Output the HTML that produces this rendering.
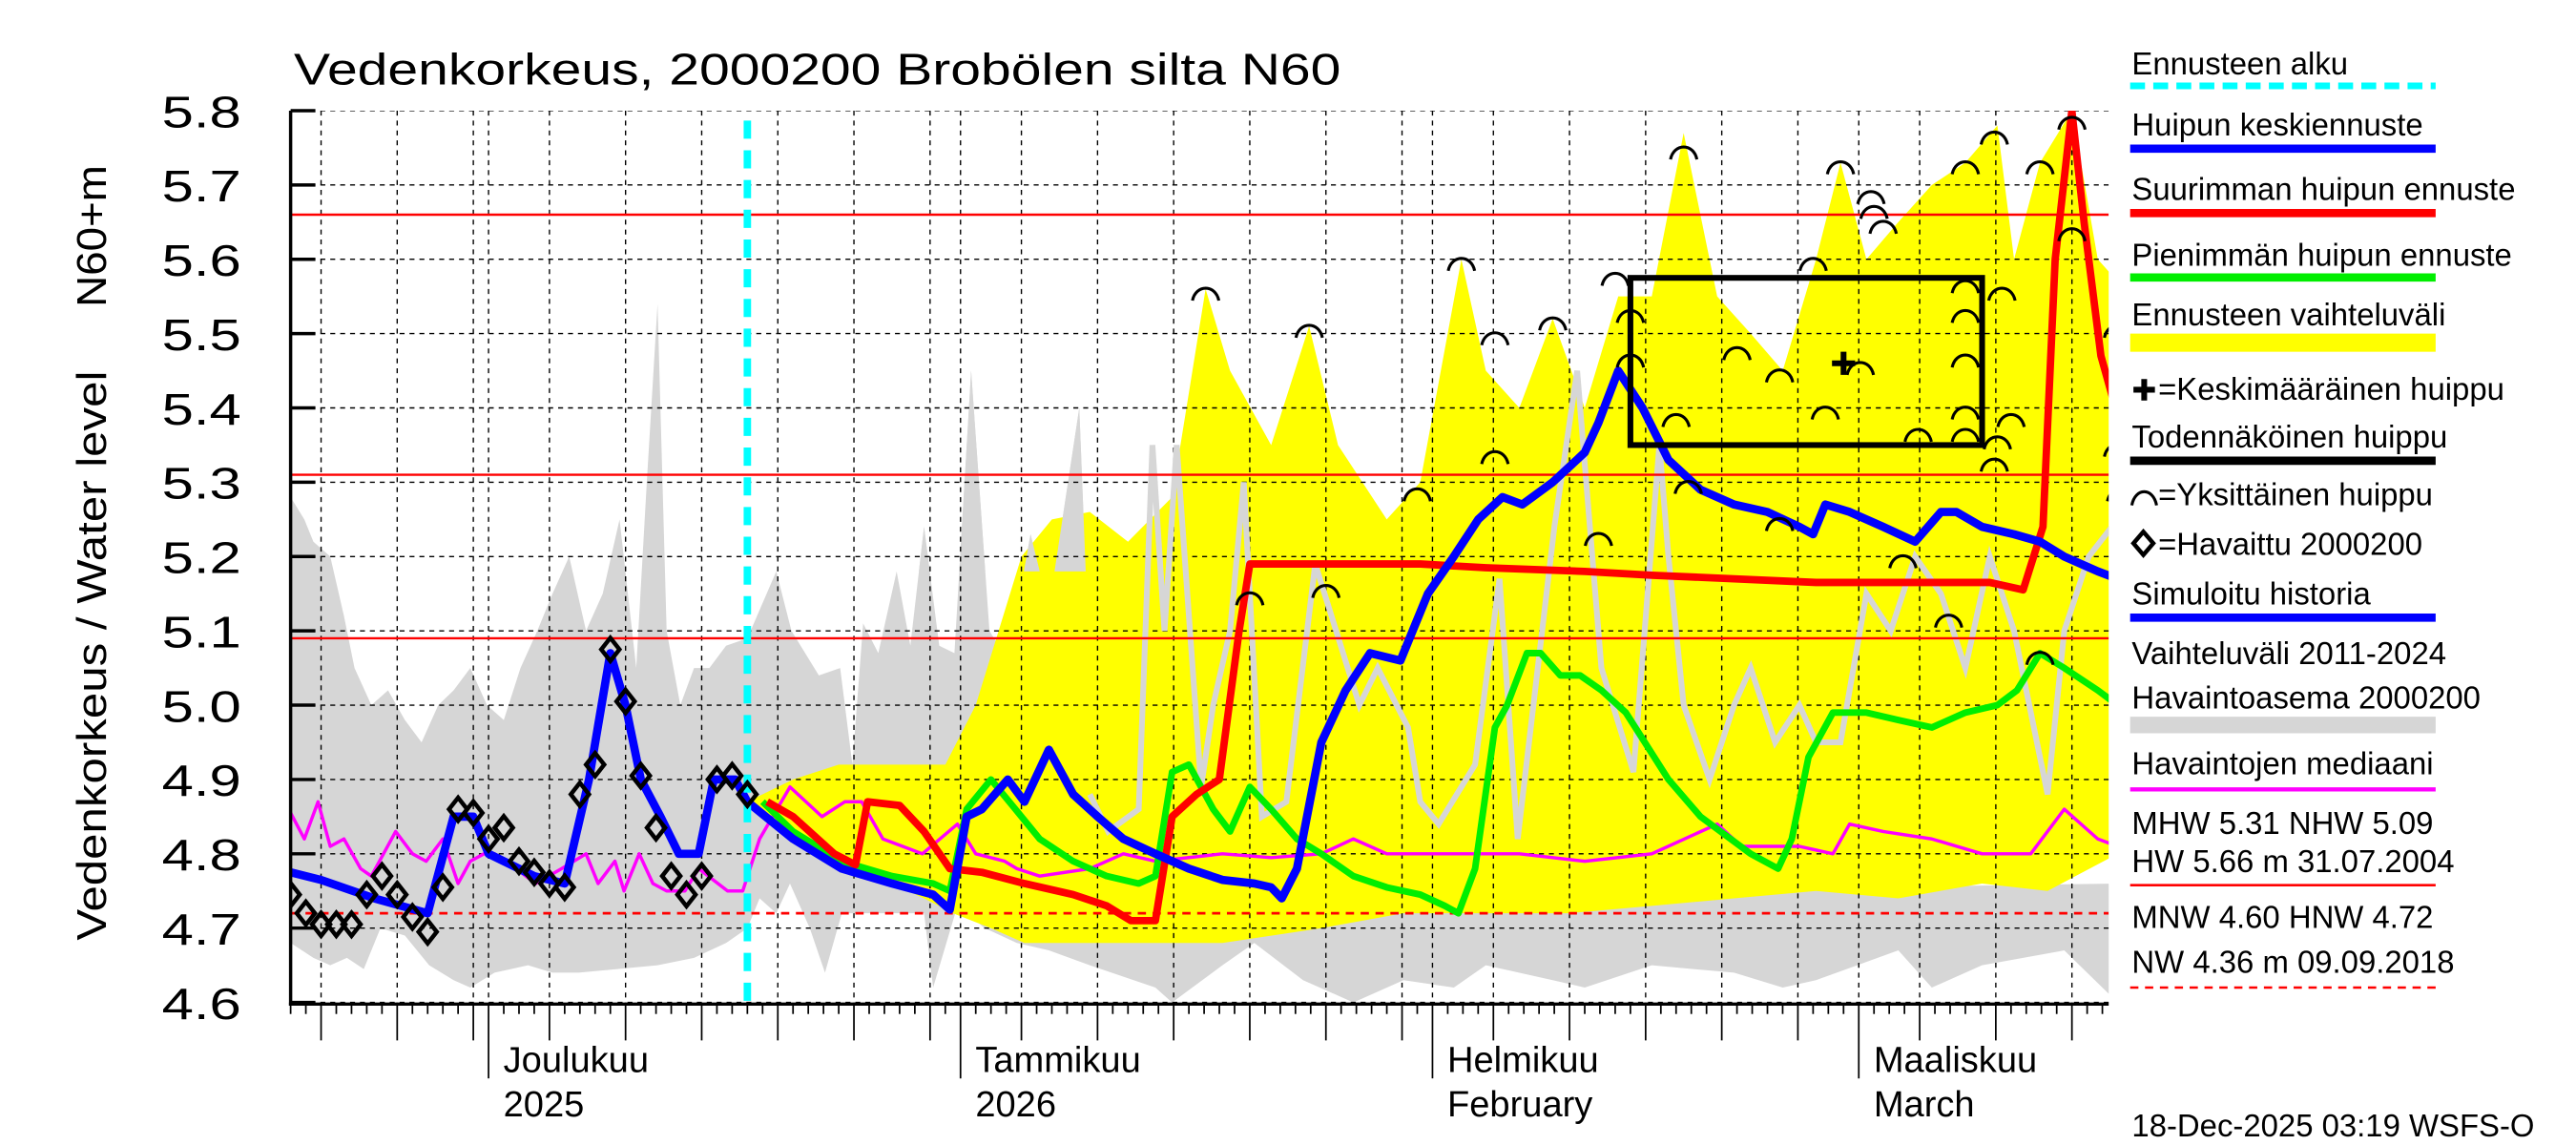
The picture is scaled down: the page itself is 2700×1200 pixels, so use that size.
<!DOCTYPE html>
<html><head><meta charset="utf-8"><style>
html,body{margin:0;padding:0;background:#fff}
svg{display:block}
text{font-family:"Liberation Sans",sans-serif}
</style></head><body>
<svg id="chart" width="2700" height="1200" viewBox="0 0 1560 693.33" preserveAspectRatio="none" xmlns="http://www.w3.org/2000/svg">
<defs><clipPath id="pc"><rect x="176" y="67" width="1101" height="541"/></clipPath>
<clipPath id="spk"><rect x="507" y="67" width="166" height="279"/></clipPath></defs>
<g id="plot" clip-path="url(#pc)"></g>
<g id="axes"></g>
<text x="178" y="51" font-size="27" textLength="634" lengthAdjust="spacingAndGlyphs">Vedenkorkeus, 2000200 Brobölen silta N60</text>
<text transform="translate(64,397) rotate(-90)" text-anchor="middle" font-size="25" textLength="345" lengthAdjust="spacingAndGlyphs">Vedenkorkeus / Water level</text>
<text transform="translate(64,143) rotate(-90)" text-anchor="middle" font-size="25" textLength="86" lengthAdjust="spacingAndGlyphs">N60+m</text>
<g id="legend" font-size="19"></g>
</svg>
<script>
const obsDays=[0,1,2,3,4,5,6,7,8,9,10,11,12,13,14,15,16,17,18,19,20,21,22,23,24,25,26,27,28,29,30];
const obsVals=[4.745,4.72,4.705,4.705,4.705,4.745,4.77,4.745,4.715,4.695,4.755,4.86,4.855,4.82,4.835,4.79,4.775,4.76,4.755,4.88,4.92,5.075,5.005,4.905,4.835,4.77,4.745,4.77,4.9,4.905,4.88];
const blueDays=[0,2,5.5,9,10.7,12,13,16,18,19.6,21,22,23,24.3,25.5,26.8,27.8,29.2,30,33.0,36.2,39.5,42.2,43.3,44.4,45.4,47.1,48.2,49.8,51.4,53.0,54.7,56.8,59.0,61.2,63.3,64.4,65.1,66.1,67.7,69.3,70.9,72.9,74.7,76.4,78.0,79.6,80.9,82.9,85.0,85.9,87.2,88.8,90.5,92.6,94.8,97.0,99.1,100.0,100.8,102.4,104.6,106.7,108.4,109.4,111.1,113.2,114.9,116.5,118.7,120];
const blueVals=[4.775,4.765,4.74,4.72,4.85,4.85,4.8,4.77,4.76,4.9,5.07,5.0,4.9,4.85,4.8,4.8,4.9,4.9,4.87,4.82,4.78,4.76,4.745,4.725,4.85,4.86,4.9,4.87,4.94,4.88,4.85,4.82,4.8,4.78,4.765,4.76,4.755,4.74,4.78,4.95,5.02,5.07,5.06,5.15,5.2,5.25,5.28,5.27,5.3,5.34,5.38,5.45,5.4,5.33,5.29,5.27,5.26,5.24,5.23,5.27,5.26,5.24,5.22,5.26,5.26,5.24,5.23,5.22,5.2,5.18,5.17];
const redDays=[31.3,33.0,35.7,37.1,37.9,40.0,41.6,43.3,45.4,48.2,51.4,53.6,55.2,56.8,57.9,59.5,61.0,62.3,63.0,67.7,74.2,78.5,85.0,89.4,94.8,100.2,105.6,111.6,113.8,115.1,115.9,117.0,117.8,118.9,120];
const redVals=[4.87,4.85,4.8,4.785,4.87,4.865,4.83,4.78,4.775,4.76,4.745,4.73,4.71,4.71,4.85,4.88,4.9,5.1,5.19,5.19,5.19,5.185,5.18,5.175,5.17,5.165,5.165,5.165,5.155,5.24,5.6,5.8,5.65,5.47,5.39];
const greenDays=[31,33,36.2,39.5,42.2,43.3,44.4,46,47.6,49.2,51.4,53.6,55.7,56.8,57.9,59,60.6,61.7,63,64.4,66.1,67.7,69.8,72,74.2,75.8,76.7,77.8,79.1,79.9,81.2,82.1,83.4,84.7,86.1,87.7,90.5,92.6,95.9,97.7,98.6,99.7,101.3,103.5,105.6,107.8,110,112.1,113.4,114.9,116.5,118.7,120];
const greenVals=[4.87,4.83,4.79,4.77,4.76,4.75,4.86,4.9,4.86,4.82,4.79,4.77,4.76,4.77,4.91,4.92,4.86,4.83,4.89,4.86,4.82,4.8,4.77,4.755,4.745,4.73,4.72,4.78,4.97,5.0,5.07,5.07,5.04,5.04,5.02,4.99,4.9,4.85,4.8,4.78,4.82,4.93,4.99,4.99,4.98,4.97,4.99,5.0,5.02,5.07,5.05,5.02,5.0];
const medDays=[0,0.9,1.8,2.6,3.5,4.6,5.3,6.9,8.0,8.9,10.0,11.0,11.8,12.7,13.4,14.8,16.1,17.8,19.4,20.2,21.3,21.9,22.9,23.8,24.7,25.9,26.8,28.7,29.7,30.8,32.8,34.9,36.4,37.5,38.9,41.5,43.8,45.0,46.9,47.7,49.2,52.5,54.7,56.8,61.2,64.4,67.7,69.8,72.0,76.4,80.7,85.0,89.4,93.7,95.3,99.1,101.3,102.4,104.6,107.8,111.1,114.3,116.5,118.7,120];
const medVals=[4.855,4.82,4.87,4.81,4.82,4.78,4.77,4.83,4.8,4.79,4.82,4.76,4.79,4.8,4.8,4.78,4.76,4.78,4.8,4.76,4.79,4.75,4.8,4.76,4.75,4.75,4.78,4.75,4.75,4.82,4.89,4.85,4.87,4.87,4.82,4.8,4.84,4.8,4.79,4.78,4.77,4.78,4.8,4.79,4.8,4.795,4.8,4.82,4.8,4.8,4.8,4.79,4.8,4.84,4.81,4.81,4.8,4.84,4.83,4.82,4.8,4.8,4.86,4.82,4.81];
const yelHiDays=[30,33,36,40,43,45,48,50,52.5,55,57.9,60.1,61.7,64.4,66.9,68.8,72.0,74.2,76.9,78.5,80.7,82.9,85.0,87.2,89.4,91.5,93.7,95.9,98.0,100.2,101.8,103.5,105.6,107.8,110.0,112.1,113.2,114.9,117.0,118.7,120];
const yelHiVals=[4.87,4.9,4.92,4.92,4.92,5.0,5.2,5.25,5.26,5.22,5.28,5.56,5.45,5.35,5.51,5.35,5.25,5.3,5.6,5.45,5.4,5.52,5.4,5.55,5.55,5.77,5.55,5.5,5.45,5.6,5.73,5.6,5.65,5.7,5.73,5.78,5.6,5.73,5.8,5.6,5.57];
const yelLoDays=[30,33,37.3,41.6,43.5,46.0,48.2,52.5,56.8,61.2,67.7,73.1,78.5,83.9,89.4,94.8,100.2,105.6,111.1,115.4,120];
const yelLoVals=[4.87,4.82,4.78,4.74,4.72,4.7,4.68,4.68,4.68,4.68,4.7,4.72,4.72,4.72,4.73,4.74,4.75,4.74,4.76,4.75,4.8];
const grayHiDays=[0,0.9,1.5,2.6,3.5,4.2,5.3,6.4,7.5,8.6,9.7,10.7,11.8,12.9,14.0,15.1,16.2,17.2,18.3,19.4,20.5,21.6,22.7,23.4,24.1,24.7,25.6,26.5,27.5,28.6,30,31.9,32.9,34.7,36.1,36.9,37.6,38.6,39.8,40.7,41.6,42.6,43.6,44.7,45.9,47.1,48.6,49.8,51.8,52.8,54,120];
const grayHiVals=[5.28,5.25,5.22,5.2,5.12,5.05,5.0,5.02,4.98,4.95,5.0,5.02,5.05,5.0,4.98,5.05,5.1,5.15,5.2,5.1,5.15,5.25,5.05,5.3,5.54,5.1,5.0,5.05,5.05,5.08,5.09,5.18,5.1,5.04,5.05,4.92,5.11,5.07,5.18,5.08,5.24,5.08,5.07,5.45,5.1,5.06,5.23,5.13,5.4,4.88,4.74,4.76];
const grayLoDays=[0,1.5,2.6,3.7,4.8,5.9,7.5,9.1,10.7,11.8,13.4,15.6,17.2,18.9,24.1,26.5,28.6,30,30.8,31.9,32.8,34.1,35.1,36.2,41.6,42.2,43.8,45.6,47.7,49.8,52.5,56.8,57.9,61.2,63.3,66.5,69.8,73.1,76.4,78.5,82.9,85.0,89.4,94.8,98.0,100.2,105.6,107.8,111.1,116.5,120];
const grayLoVals=[4.68,4.66,4.65,4.66,4.645,4.7,4.69,4.65,4.63,4.62,4.64,4.65,4.64,4.64,4.65,4.66,4.68,4.7,4.74,4.72,4.76,4.7,4.64,4.72,4.72,4.62,4.73,4.7,4.68,4.67,4.65,4.62,4.6,4.65,4.68,4.63,4.6,4.63,4.62,4.65,4.63,4.62,4.65,4.64,4.62,4.63,4.67,4.62,4.65,4.67,4.6];
const histLineDays=[52.5,53.7,55.7,56.6,57.4,58.2,59.8,60.6,61.7,62.6,63.8,65.4,67.3,70.2,71.4,73.4,74.2,75.4,77.8,79.4,80.6,83,84.5,86.1,88.2,89.9,90.5,91.5,93.2,94.8,95.9,97.5,99.1,100.2,101.8,103.5,105.1,106.7,108.4,110,111.6,113.2,115.4,116.5,118.1,120];
const histLineVals=[4.88,4.83,4.86,5.35,5.1,5.35,4.89,5.0,5.1,5.3,4.85,4.87,5.19,5.0,5.05,4.97,4.87,4.84,4.92,5.17,4.82,5.24,5.45,5.05,4.91,5.35,5.2,5.0,4.9,5.0,5.05,4.95,5.0,4.95,4.95,5.15,5.1,5.2,5.15,5.05,5.2,5.1,4.88,5.1,5.2,5.25];
const peakDays=[60.1,66.9,63.0,68.0,74.0,76.9,79.1,79.1,82.9,85.9,87.0,88.0,88.0,91.0,91.8,91.5,95.0,97.8,97.8,100.0,100.8,101.8,103.1,103.8,104.0,104.6,105.9,106.9,108.9,110.0,110.0,110.0,110.0,110.0,111.9,112.1,112.4,113.0,110.0,111.9,114.9,114.9,117.0,117.0,120,120,120.2];
const peakVals=[5.56,5.51,5.15,5.16,5.29,5.60,5.50,5.34,5.52,5.23,5.58,5.53,5.47,5.39,5.30,5.75,5.48,5.45,5.25,5.60,5.40,5.73,5.46,5.69,5.67,5.65,5.20,5.37,5.12,5.57,5.53,5.47,5.40,5.37,5.33,5.36,5.56,5.39,5.73,5.77,5.73,5.07,5.64,5.79,5.51,5.35,5.29];
const boxDays=[88.0,111.1];
const boxVals=[5.35,5.575];
const meanPeakDay=[102.0];
const meanPeakVal=[5.46];
const forecastStartDay=30;
const yTicks=[4.6,4.7,4.8,4.9,5.0,5.1,5.2,5.3,5.4,5.5,5.6,5.7,5.8];
const yTickLabels=["4.6","4.7","4.8","4.9","5.0","5.1","5.2","5.3","5.4","5.5","5.6","5.7","5.8"];
const monthDays=[13,44,75,103];
const monthLabels1=["Joulukuu","Tammikuu","Helmikuu","Maaliskuu"];
const monthLabels2=["2025","2026","February","March"];
const gridDays=[2,7,12,13,17,22,27,32,37,42,44,48,53,58,63,68,73,75,79,84,89,94,99,103,107,112,117];
const refVals=[5.66,5.31,5.09];
const refDashedVal=[4.72];

const NS="http://www.w3.org/2000/svg";
const X=d=>176+d*9.22, Y=v=>67+(5.8-v)*450;
function mk(tag,attrs,parent){const e=document.createElementNS(NS,tag);for(const k in attrs)e.setAttribute(k,attrs[k]);parent.appendChild(e);return e;}
const plot=document.getElementById('plot'),axes=document.getElementById('axes'),leg=document.getElementById('legend');
function pts(ds,vs){const n=Math.min(ds.length,vs.length);let s=[];for(let i=0;i<n;i++)s.push(X(ds[i]).toFixed(1)+','+Y(vs[i]).toFixed(1));return s;}

const grayPts=pts(grayHiDays,grayHiVals).concat(pts(grayLoDays,grayLoVals).reverse()).join(' ');
let g=mk('polygon',{points:grayPts,fill:'#d6d6d6'},plot);


let yb=mk('polygon',{points:pts(yelHiDays,yelHiVals).concat(pts(yelLoDays,yelLoVals).reverse()).join(' '),fill:'#ffff00'},plot);


let g2=mk('polygon',{points:grayPts,fill:'#d6d6d6','clip-path':'url(#spk)'},plot);


for(const v of yTicks){let l=mk('line',{x1:176,x2:1277,y1:Y(v),y2:Y(v),stroke:'#000','stroke-width':0.8,'stroke-dasharray':'3,3'},plot);

}
for(const d of gridDays){let l=mk('line',{x1:X(d),x2:X(d),y1:67,y2:608,stroke:'#000','stroke-width':0.8,'stroke-dasharray':'3,3'},plot);

}
let hl=mk('polyline',{points:pts(histLineDays,histLineVals).join(' '),fill:'none',stroke:'#d6d6d6','stroke-width':3.5},plot);


for(const v of refVals){let l=mk('line',{x1:176,x2:1277,y1:Y(v),y2:Y(v),stroke:'#ff0000','stroke-width':1.4},plot);

}
for(const v of refDashedVal){let l=mk('line',{x1:176,x2:1277,y1:Y(v),y2:Y(v),stroke:'#ff0000','stroke-width':1.6,'stroke-dasharray':'5,4'},plot);

}
function line(ds,vs,col,w,name){let p=mk('polyline',{points:pts(ds,vs).join(' '),fill:'none',stroke:col,'stroke-width':w,'stroke-linejoin':'round'},plot);

}
line(medDays,medVals,'#ff00ff',2,'median-line');
line(greenDays,greenVals,'#00ee00',4,'min-peak-forecast-line');
line(redDays,redVals,'#ff0000',4.5,'max-peak-forecast-line');
line(blueDays,blueVals,'#0000ff',5,'mean-peak-forecast-line');
let cy=mk('line',{x1:X(forecastStartDay),x2:X(forecastStartDay),y1:73,y2:608,stroke:'#00ffff','stroke-width':4.5,'stroke-dasharray':'11,7'},plot);


for(let i=0;i<Math.min(obsDays.length,obsVals.length);i++){const x=X(obsDays[i]),y=Y(obsVals[i]);
let d=mk('polygon',{points:`${x},${y-7} ${x+5.5},${y} ${x},${y+7} ${x-5.5},${y}`,fill:'none',stroke:'#000','stroke-width':2.6},plot);

}
let bx=mk('rect',{x:X(boxDays[0]),y:Y(boxVals[1]),width:X(boxDays[1])-X(boxDays[0]),height:Y(boxVals[0])-Y(boxVals[1]),fill:'none',stroke:'#000','stroke-width':3.5},plot);


for(let i=0;i<Math.min(peakDays.length,peakVals.length);i++){const x=X(peakDays[i]),y=Y(peakVals[i]);
let a=mk('path',{d:`M${x-8},${y+7} C${x-6},${y-3} ${x+6},${y-3} ${x+8},${y+7}`,fill:'none',stroke:'#000','stroke-width':1.8},plot);

}
{const x=X(meanPeakDay[0]),y=Y(meanPeakVal[0]);
let p=mk('path',{d:`M${x-7},${y} H${x+7} M${x},${y-7} V${y+7}`,stroke:'#000','stroke-width':3.5},plot);

}
mk('line',{x1:176,x2:176,y1:67,y2:609,stroke:'#000','stroke-width':2},axes);
mk('line',{x1:175,x2:1277,y1:608,y2:608,stroke:'#000','stroke-width':2},axes);
for(let i=0;i<yTicks.length;i++){const y=Y(yTicks[i]);
mk('line',{x1:176,x2:191,y1:y,y2:y,stroke:'#000','stroke-width':2},axes);
let t=mk('text',{x:146,y:y+10,'text-anchor':'end','font-size':27,textLength:48,lengthAdjust:'spacingAndGlyphs'},axes);t.textContent=yTickLabels[i];

}
for(let d=0;d<=119;d++){let len=6;if(gridDays.includes(d))len=22;if(monthDays.includes(d))len=45;
mk('line',{x1:X(d),x2:X(d),y1:608,y2:608+len,stroke:'#000','stroke-width':1},axes);}
for(let i=0;i<monthDays.length;i++){const x=X(monthDays[i])+9;
let t1=mk('text',{x:x,y:649,'font-size':22},axes);t1.textContent=monthLabels1[i];


let t2=mk('text',{x:x,y:676,'font-size':22},axes);t2.textContent=monthLabels2[i];

}
const L=1290;
function lt(txt,y,name){let t=mk('text',{x:L+1,y:y},leg);t.textContent=txt;return t;}
function ll(y,col,w,dash){let a={x1:L,x2:1475,y1:y,y2:y,stroke:col,'stroke-width':w};if(dash)a['stroke-dasharray']=dash;mk('line',a,leg);}
lt('Ennusteen alku',45,'legend-forecast-start');ll(52,'#00ffff',4,'9,5');
lt('Huipun keskiennuste',82,'legend-mean-peak');ll(90,'#0000ff',5);
lt('Suurimman huipun ennuste',121,'legend-max-peak');ll(129,'#ff0000',5);
lt('Pienimmän huipun ennuste',161,'legend-min-peak');ll(168,'#00ee00',5);
lt('Ennusteen vaihteluväli',197,'legend-forecast-range');mk('rect',{x:L,y:202,width:185,height:11,fill:'#ffff00'},leg);
mk('path',{d:`M${L+2},236 h13 M${L+8.5},229.5 v13`,stroke:'#000','stroke-width':3.5},leg);
{let t=mk('text',{x:L+17,y:242},leg);t.textContent='=Keskimääräinen huippu';}
lt('Todennäköinen huippu',271,'legend-probable-peak');ll(279,'#000',5);
mk('path',{d:`M${L+1},306 C${L+3},295 ${L+14},295 ${L+16},306`,fill:'none',stroke:'#000','stroke-width':1.8},leg);
{let t=mk('text',{x:L+17,y:306},leg);t.textContent='=Yksittäinen huippu';}
mk('polygon',{points:`${L+8},322 ${L+14},329 ${L+8},336 ${L+2},329`,fill:'none',stroke:'#000','stroke-width':2.6},leg);
{let t=mk('text',{x:L+17,y:336},leg);t.textContent='=Havaittu 2000200';}
lt('Simuloitu historia',366,'legend-simulated');ll(374,'#0000ff',5);
lt('Vaihteluväli 2011-2024',402,'legend-history-range');lt('Havaintoasema 2000200',429,'legend-station');mk('rect',{x:L,y:434,width:185,height:10,fill:'#d6d6d6'},leg);
lt('Havaintojen mediaani',469,'legend-median');ll(478,'#ff00ff',2.5);
lt('MHW   5.31 NHW   5.09',505,'legend-mhw');lt('HW   5.66 m 31.07.2004',528,'legend-hw');ll(536,'#ff0000',1.5);
lt('MNW   4.60 HNW   4.72',562,'legend-mnw');lt('NW   4.36 m 09.09.2018',589,'legend-nw');ll(598,'#ff0000',1.5,'5,4');
lt('18-Dec-2025 03:19 WSFS-O',688,'timestamp');
</script>
</body></html>
